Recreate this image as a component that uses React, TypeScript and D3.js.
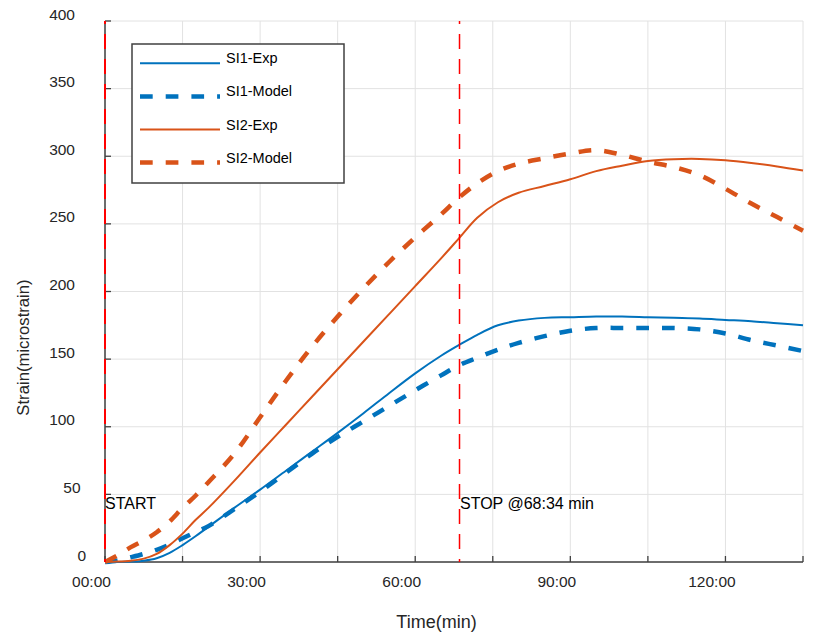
import React from "react";
import * as d3 from "d3";

const times = [0, 2.5, 5, 7.5, 10, 12.5, 15, 17.5, 20, 25, 30, 35, 40, 45, 50, 55, 60, 65, 68.5, 72, 76, 80, 85, 90, 95, 100, 105, 110, 115, 120, 125, 130, 135];
const si1Exp = [0, 0, 0.3, 1, 2.8, 6.8, 12.5, 19, 26, 40, 53.5, 67.5, 81.5, 95.5, 110, 125, 139.5, 152.5, 160.5, 168, 175, 178.5, 180.5, 181, 181.5, 181.5, 181, 180.5, 180, 179, 178, 176.5, 175];
const si1Model = [0, 1.2, 3.5, 6, 9, 13, 17.5, 22, 26.5, 39, 52, 66, 80, 92.5, 104, 115.5, 127, 138, 145.5, 151, 157, 162, 167, 171, 173, 173, 173, 173, 172, 169, 164, 160, 156];
const si2Exp = [0, 0.3, 1, 2.5, 6, 12.5, 21, 31, 40, 60, 81, 101.5, 122, 142.5, 163, 183.5, 204, 224.5, 239.5, 254.5, 266, 273, 278, 283, 289, 293, 296.5, 297.8, 298, 297, 295, 292.5, 289.5];
const si2Model = [0, 5, 11, 16, 22, 30, 40, 49, 59, 80, 107, 134, 159, 181.5, 202.5, 222, 240, 257, 269.5, 280, 289, 294.5, 298.5, 302, 304.5, 301, 296, 292, 286, 276, 265, 255, 245];

const seriesNames = ["SI1-Exp", "SI1-Model", "SI2-Exp", "SI2-Model"];
const yTicks = [0, 50, 100, 150, 200, 250, 300, 350, 400];
const xGridTicks = [0, 15, 30, 45, 60, 75, 90, 105, 120, 135];
const xLabelValues = [0, 30, 60, 90, 120];
const xLabels = ["00:00", "30:00", "60:00", "90:00", "120:00"];
const startTime = 0;
const stopTime = 68 + 34 / 60;
const startLabel = "START";
const stopLabel = "STOP @68:34 min";
const xTitle = "Time(min)";
const yTitle = "Strain(microstrain)";

const BLUE = "#0072BD";
const ORANGE = "#D95319";
const FONT = "'Liberation Sans', Arial, sans-serif";
const TEXT = "#262626";

export default function App() {
  const x = d3.scaleLinear().domain([0, 135]).range([105, 803]);
  const y = d3.scaleLinear().domain([0, 400]).range([562, 21]);
  const line = (vals: number[]) =>
    d3
      .line<number>()
      .x((_, i) => x(times[i]))
      .y((v) => y(v))
      .curve(d3.curveCatmullRom.alpha(0.5))(vals) as string;

  const series = [
    { name: seriesNames[0], vals: si1Exp, color: BLUE, width: 2, dash: undefined },
    { name: seriesNames[1], vals: si1Model, color: BLUE, width: 4.5, dash: "12.7,13" },
    { name: seriesNames[2], vals: si2Exp, color: ORANGE, width: 2, dash: undefined },
    { name: seriesNames[3], vals: si2Model, color: ORANGE, width: 4.5, dash: "12.7,13" },
  ];

  const legendX = 132;
  const legendY = 44;

  return (
    <svg
      width={814}
      height={641}
      style={{ position: "absolute", left: 0, top: 0, background: "#fff" }}
      fontFamily={FONT}
    >
      <rect x={0} y={0} width={814} height={641} fill="#fff" />
      {yTicks.map((t) => (
        <line key={"gy" + t} x1={x(0)} x2={x(135)} y1={y(t)} y2={y(t)} stroke="#e2e2e2" strokeWidth={1} />
      ))}
      {xGridTicks.map((t) => (
        <line key={"gx" + t} x1={x(t)} x2={x(t)} y1={y(0)} y2={y(400)} stroke="#e2e2e2" strokeWidth={1} />
      ))}
      <line x1={x(0)} x2={x(135)} y1={y(0)} y2={y(0)} stroke="#404040" strokeWidth={1.5} />
      <line x1={x(0)} x2={x(0)} y1={y(0)} y2={y(400)} stroke="#404040" strokeWidth={1.5} />
      {xGridTicks.map((t) => (
        <line key={"tx" + t} x1={x(t)} x2={x(t)} y1={y(0)} y2={y(0) - 6} stroke="#404040" strokeWidth={1.3} />
      ))}
      {yTicks.map((t) => (
        <line key={"ty" + t} x1={x(0)} x2={x(0) + 6} y1={y(t)} y2={y(t)} stroke="#404040" strokeWidth={1.3} />
      ))}
      {yTicks.map((t) => {
        const s = String(t);
        return (
          <text key={"ly" + t} x={75 + (3 - s.length) * 5.6} y={y(t) - 1.5} textAnchor="end" fontSize={15.5} fill={TEXT}>
            {s}
          </text>
        );
      })}
      {xLabelValues.map((t, i) => (
        <text key={"lx" + t} x={x(t) - 13.5} y={587} textAnchor="middle" fontSize={15.5} fill={TEXT}>
          {xLabels[i]}
        </text>
      ))}
      <text x={436.5} y={628} textAnchor="middle" fontSize={18} fill={TEXT}>
        {xTitle}
      </text>
      <text transform="translate(28.5,347.5) rotate(-90)" textAnchor="middle" fontSize={16.7} fill={TEXT}>
        {yTitle}
      </text>
      {series.map((s) => (
        <path
          key={s.name}
          d={line(s.vals)}
          fill="none"
          stroke={s.color}
          strokeWidth={s.width}
          strokeDasharray={s.dash}
          strokeLinejoin="round"
        />
      ))}
      <line x1={x(startTime)} x2={x(startTime)} y1={y(400)} y2={y(0)} stroke="#ff0000" strokeWidth={2} strokeDasharray="15,10" strokeDashoffset={12} />
      <line x1={x(stopTime)} x2={x(stopTime)} y1={y(400)} y2={y(0)} stroke="#ff0000" strokeWidth={1.5} strokeDasharray="15,10" strokeDashoffset={12} />
      <text x={x(startTime)} y={509} fontSize={16} fill="#000">
        {startLabel}
      </text>
      <text x={x(stopTime) + 0.5} y={509} fontSize={16} fill="#000">
        {stopLabel}
      </text>
      <rect x={legendX} y={legendY} width={212} height={139} fill="#fff" stroke="#404040" strokeWidth={1.5} />
      {series.map((s, i) => {
        const ly = 63.3 + i * 33.1;
        return (
          <g key={"lg" + s.name}>
            <line x1={140} x2={220} y1={ly} y2={ly} stroke={s.color} strokeWidth={s.dash ? 4.5 : 2} strokeDasharray={s.dash} />
            <text x={226} y={ly} fontSize={14.5} fill="#000">
              {s.name}
            </text>
          </g>
        );
      })}
    </svg>
  );
}
